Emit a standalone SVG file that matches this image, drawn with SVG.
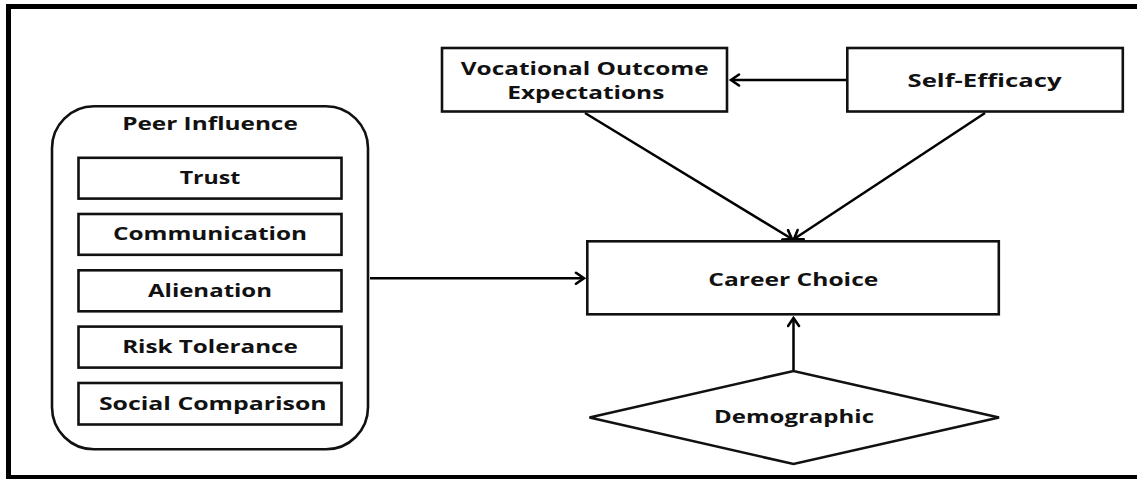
<svg xmlns="http://www.w3.org/2000/svg" width="1137" height="479" viewBox="0 0 1137 479">
<style>
.frame{fill:none;stroke:#000;stroke-width:5}
.box{fill:#fff;stroke:#111;stroke-width:2.6}
.t{font-family:"Open Sans","DejaVu Sans",sans-serif;font-weight:700;font-size:18.5px;fill:#111;text-anchor:middle}
.c{fill:none;stroke:#000;stroke-width:2.5}
</style>
<defs>
<marker id="ah" markerUnits="userSpaceOnUse" markerWidth="14" markerHeight="14" viewBox="-10 -7 12 14" refX="0" refY="0" orient="auto">
<path d="M-8,-5.5 L0,0 L-8,5.5" fill="none" stroke="#000" stroke-width="2.6" stroke-linecap="round" stroke-linejoin="miter"/>
</marker>
</defs>
<rect class="frame" x="8.5" y="6.5" width="1140" height="471"/>
<g id="connectors">
<line class="c" x1="846" y1="80" x2="731" y2="80" marker-end="url(#ah)"/>
<line class="c" x1="585" y1="113" x2="792" y2="239" marker-end="url(#ah)"/>
<line class="c" x1="985" y1="113" x2="794" y2="239" marker-end="url(#ah)"/>
<line class="c" x1="370" y1="278.3" x2="584" y2="278.3" marker-end="url(#ah)"/>
<line class="c" x1="793.5" y1="370" x2="793.5" y2="318" marker-end="url(#ah)"/>
</g>
<g id="peer-influence">
<rect class="box" x="52" y="106.3" width="316" height="343" rx="42" ry="42"/>
<text class="t" x="210" y="130" textLength="175.6" lengthAdjust="spacingAndGlyphs">Peer Influence</text>
</g>
<g id="trust">
<rect class="box" x="78.5" y="157.8" width="263" height="40.8"/>
<text class="t" x="210" y="184" textLength="60.7" lengthAdjust="spacingAndGlyphs">Trust</text>
</g>
<g id="communication">
<rect class="box" x="78.5" y="214" width="263" height="40.8"/>
<text class="t" x="210" y="240.3" textLength="194" lengthAdjust="spacingAndGlyphs">Communication</text>
</g>
<g id="alienation">
<rect class="box" x="78.5" y="270.3" width="263" height="41"/>
<text class="t" x="210" y="296.8" textLength="124" lengthAdjust="spacingAndGlyphs">Alienation</text>
</g>
<g id="risk-tolerance">
<rect class="box" x="78.5" y="326.6" width="263" height="41"/>
<text class="t" x="210" y="353.2" textLength="175.7" lengthAdjust="spacingAndGlyphs">Risk Tolerance</text>
</g>
<g id="social-comparison">
<rect class="box" x="78.5" y="383" width="263" height="41.5"/>
<text class="t" x="212.8" y="409.7" textLength="227.7" lengthAdjust="spacingAndGlyphs">Social Comparison</text>
</g>
<g id="vocational-outcome-expectations">
<rect class="box" x="442" y="48" width="285" height="63.5"/>
<text class="t" x="584.7" y="75" textLength="248" lengthAdjust="spacingAndGlyphs">Vocational Outcome</text>
<text class="t" x="585.8" y="98.5" textLength="157" lengthAdjust="spacingAndGlyphs">Expectations</text>
</g>
<g id="self-efficacy">
<rect class="box" x="847.3" y="48" width="275.5" height="63.5"/>
<text class="t" x="984.5" y="87.3" textLength="154" lengthAdjust="spacingAndGlyphs">Self-Efficacy</text>
</g>
<g id="career-choice">
<rect class="box" x="587.3" y="241.3" width="411.5" height="73"/>
<text class="t" x="793.3" y="285.7" textLength="170" lengthAdjust="spacingAndGlyphs">Career Choice</text>
</g>
<g id="demographic">
<polygon class="box" points="589.5,417.5 793.5,371 999,417.5 793.5,464"/>
<text class="t" x="794" y="423.3" textLength="160" lengthAdjust="spacingAndGlyphs">Demographic</text>
</g>
</svg>
